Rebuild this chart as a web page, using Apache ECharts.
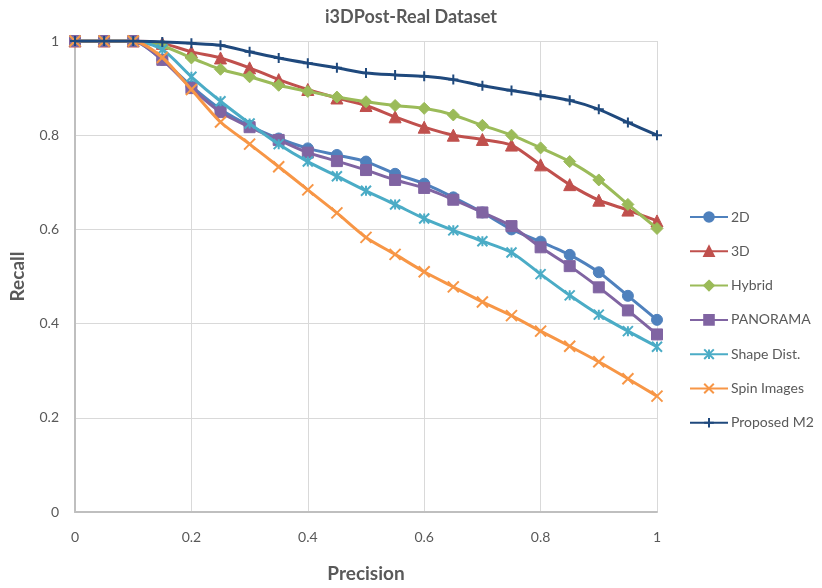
<!DOCTYPE html>
<html>
<head>
<meta charset="utf-8">
<script src="https://cdn.jsdelivr.net/npm/echarts@6/dist/echarts.min.js"></script>
<style>html,body{margin:0;padding:0;background:#fff;}#c{width:822px;height:588px;}</style>
</head>
<body>
<div id="c"></div>
<script>
const precision = [0,0.05,0.1,0.15,0.2,0.25,0.3,0.35,0.4,0.45,0.5,0.55,0.6,0.65,0.7,0.75,0.8,0.85,0.9,0.95,1];
const seriesNames = ['2D','3D','Hybrid','PANORAMA','Shape Dist.','Spin Images','Proposed M2'];
const recall2D = [1,1,1,0.96,0.904,0.855,0.82,0.793,0.772,0.758,0.744,0.718,0.697,0.668,0.636,0.6,0.574,0.546,0.509,0.459,0.408];
const recall3D = [1,1,1,0.995,0.977,0.964,0.943,0.918,0.897,0.879,0.863,0.839,0.817,0.8,0.791,0.779,0.737,0.695,0.662,0.641,0.618];
const recallHybrid = [1,1,1,0.99,0.964,0.94,0.924,0.906,0.893,0.881,0.871,0.863,0.857,0.843,0.821,0.8,0.773,0.744,0.705,0.653,0.602];
const recallPanorama = [1,1,1,0.96,0.9,0.849,0.817,0.79,0.763,0.745,0.726,0.705,0.688,0.663,0.636,0.607,0.562,0.522,0.477,0.428,0.377];
const recallShape = [1,1,1,0.982,0.924,0.872,0.825,0.781,0.744,0.713,0.682,0.653,0.623,0.598,0.575,0.551,0.505,0.46,0.419,0.384,0.351];
const recallSpin = [1,1,1,0.965,0.897,0.828,0.781,0.733,0.684,0.635,0.583,0.547,0.51,0.478,0.446,0.417,0.384,0.352,0.319,0.283,0.246];
const recallM2 = [1,1,1,0.998,0.995,0.991,0.977,0.964,0.953,0.943,0.932,0.928,0.925,0.918,0.905,0.895,0.885,0.874,0.855,0.827,0.8];

const allData = [recall2D, recall3D, recallHybrid, recallPanorama, recallShape, recallSpin, recallM2];
const colors = ['#4F81BD','#C0504D','#9BBB59','#8064A2','#4BACC6','#F79646','#1F497D'];
const symbols = ['circle','triangle','diamond','rect',
  'path://M0,0L10,10M10,0L0,10M5,0L5,10',
  'path://M0,0L10,10M10,0L0,10',
  'path://M5,0L5,10M0,5L10,5'];
const sizes = [11,12,12,11,10,11,10];
const stroked = [false,false,false,false,true,true,true];
const font = 'Lato, "Open Sans", sans-serif';

const chart = echarts.init(document.getElementById('c'), null, {renderer:'canvas'});
const series = seriesNames.map((name, i) => ({
  name: name,
  type: 'line',
  smooth: 0.25,
  data: precision.map((p, j) => [p, allData[i][j]]),
  symbol: symbols[i],
  symbolSize: sizes[i],
  showAllSymbol: true,
  lineStyle: {color: colors[i], width: 3},
  itemStyle: stroked[i]
    ? {color: 'rgba(0,0,0,0)', borderColor: colors[i], borderWidth: 2}
    : {color: colors[i], borderColor: colors[i], borderWidth: 1},
  emphasis: {disabled: true},
  z: 2 + i
}));

chart.setOption({
  animation: false,
  backgroundColor: '#fff',
  title: {
    text: 'i3DPost-Real Dataset',
    left: 'center',
    top: 3,
    textStyle: {fontFamily: font, fontSize: 18, fontWeight: 'bold', color: '#595959'}
  },
  grid: {left: 74, right: 165, top: 41, bottom: 69, containLabel: false},
  legend: {
    orient: 'vertical',
    left: 689,
    top: 209,
    padding: 0,
    itemWidth: 38,
    itemHeight: 12,
    itemGap: 18.3,
    textStyle: {fontFamily: font, fontSize: 14, color: '#595959', lineHeight: 16, padding: [0,0,0,-2]},
    data: seriesNames
  },
  xAxis: {
    type: 'value', min: 0, max: 1, interval: 0.2,
    name: 'Precision', nameLocation: 'middle', nameGap: 52,
    nameTextStyle: {fontFamily: font, fontSize: 19, fontWeight: 'bold', color: '#595959'},
    axisLine: {show: true, lineStyle: {color: '#BFBFBF', width: 2}},
    axisTick: {show: false},
    axisLabel: {fontFamily: font, fontSize: 14, color: '#595959', margin: 18},
    splitLine: {show: true, lineStyle: {color: '#D9D9D9', width: 1}}
  },
  yAxis: {
    type: 'value', min: 0, max: 1, interval: 0.2,
    name: 'Recall', nameLocation: 'middle', nameGap: 48,
    nameTextStyle: {fontFamily: font, fontSize: 19, fontWeight: 'bold', color: '#595959'},
    axisLine: {show: true, lineStyle: {color: '#BFBFBF', width: 2}},
    axisTick: {show: false},
    axisLabel: {fontFamily: font, fontSize: 14, color: '#595959', margin: 16},
    splitLine: {show: true, lineStyle: {color: '#D9D9D9', width: 1}}
  },
  series: series
});
</script>
</body>
</html>
